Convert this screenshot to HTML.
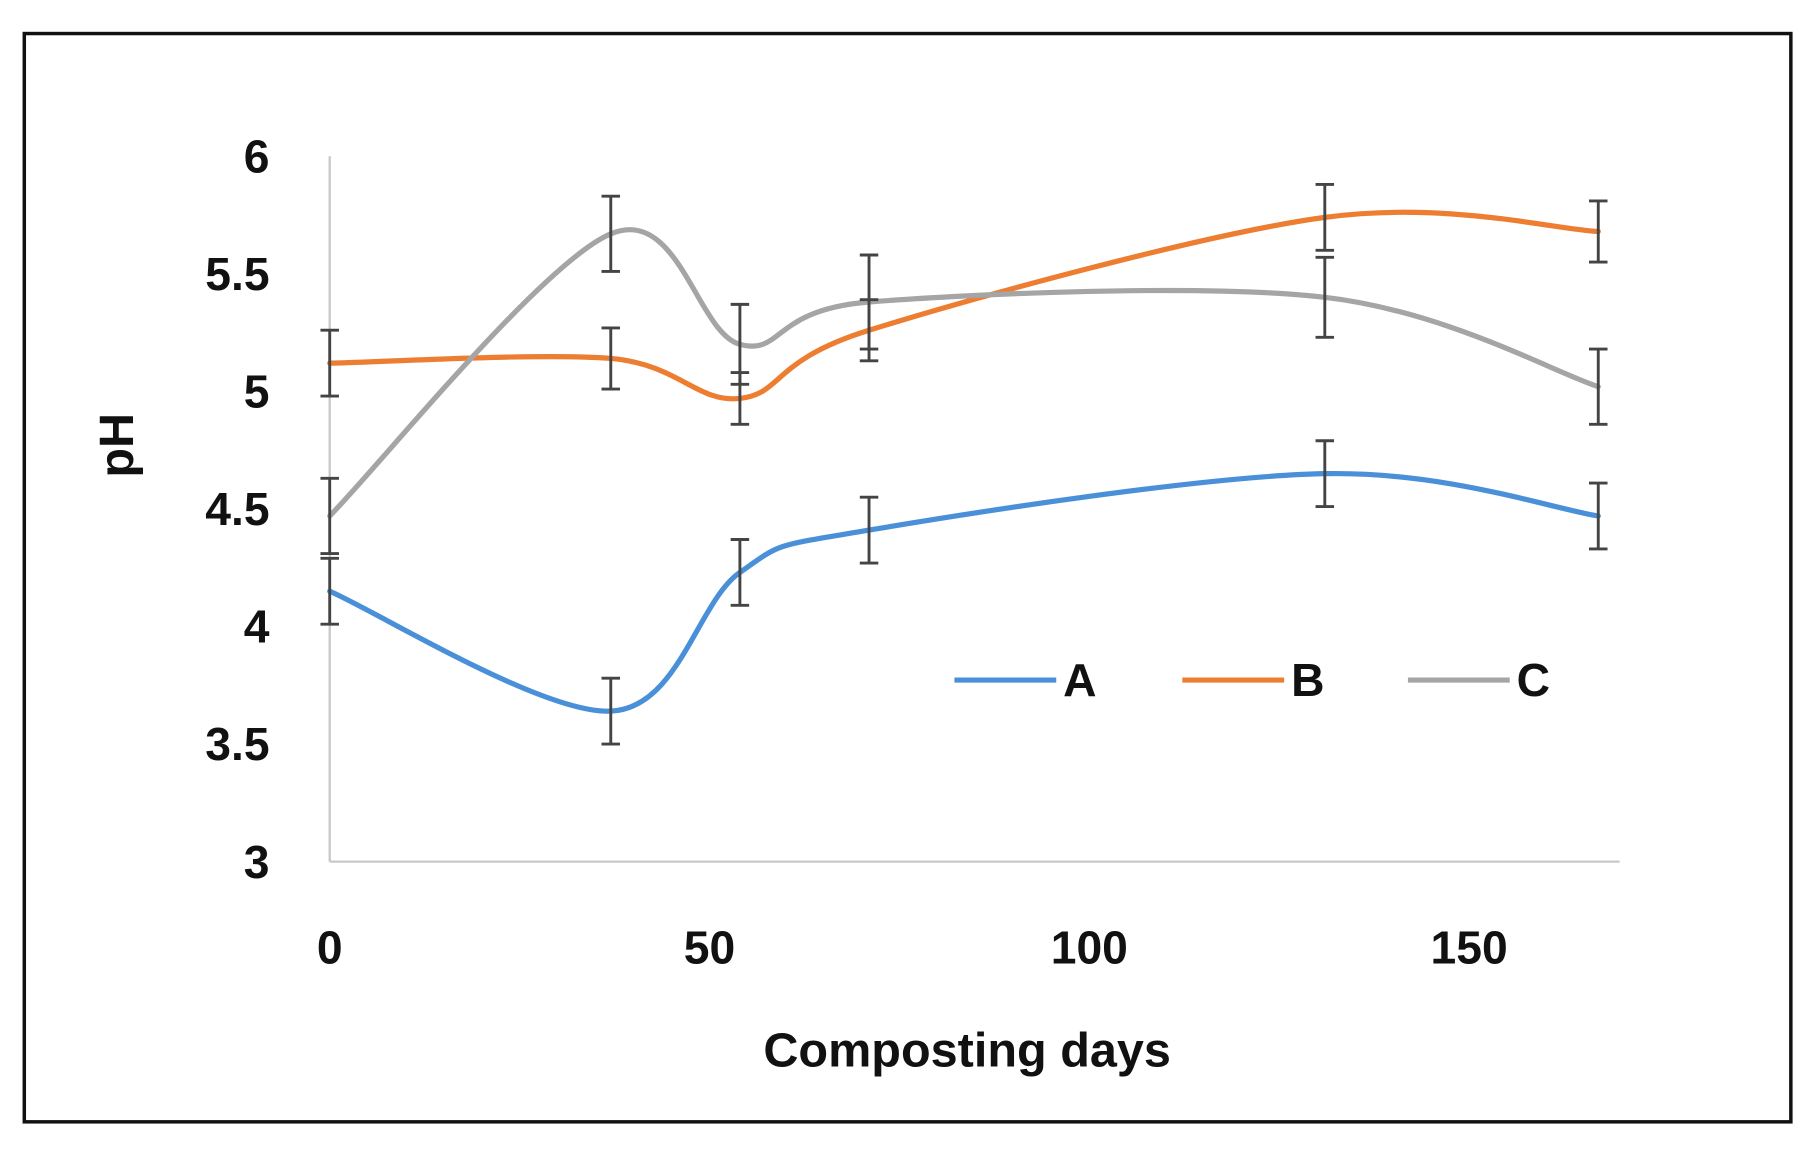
<!DOCTYPE html>
<html><head><meta charset="utf-8"><style>
html,body{margin:0;padding:0;background:#fff;}
svg{display:block;}
text{font-family:"Liberation Sans",sans-serif;font-weight:bold;fill:#111;}
</style></head><body>
<svg id="chart" width="1814" height="1160" viewBox="0 0 1568 1003" preserveAspectRatio="none" xmlns="http://www.w3.org/2000/svg">
<rect x="21" y="29" width="1527" height="941" fill="#fff" stroke="#111" stroke-width="3"/>
<g id="axes"></g>
<g id="series"></g>
<g id="legend"></g>
<text x="836" y="922" font-size="42" text-anchor="middle">Composting days</text>
<text x="0" y="0" font-size="42" text-anchor="middle" transform="translate(115,385) rotate(-90)">pH</text>
</svg>
<script>
const days = [0, 37, 54, 71, 131, 167];
const seriesNames = ["A", "B", "C"];
const valuesA = [4.15, 3.64, 4.23, 4.41, 4.65, 4.47];
const valuesB = [5.12, 5.14, 4.97, 5.26, 5.74, 5.68];
const valuesC = [4.47, 5.67, 5.2, 5.38, 5.4, 5.02];
const errA = [0.14, 0.14, 0.14, 0.14, 0.14, 0.14];
const errB = [0.14, 0.13, 0.11, 0.13, 0.14, 0.13];
const errC = [0.16, 0.16, 0.17, 0.2, 0.17, 0.16];
const yTicks = [3, 3.5, 4, 4.5, 5, 5.5, 6];
const xTicks = [0, 50, 100, 150];

const NS = "http://www.w3.org/2000/svg";
const X0 = 285, XPER = 6.566;
const Y0 = 745, YPER = 203.3;
const xs = d => X0 + d * XPER;
const ys = v => Y0 - (v - 3) * YPER;
function mk(tag, attrs, parent) {
  const e = document.createElementNS(NS, tag);
  for (const k in attrs) e.setAttribute(k, attrs[k]);
  parent.appendChild(e);
  return e;
}
const axes = document.getElementById("axes");
const yAxis = mk("line", {x1: X0, y1: ys(6), x2: X0, y2: ys(3), stroke: "#c8c8c8", "stroke-width": 2}, axes);


const xAxis = mk("line", {x1: X0, y1: ys(3), x2: 1400, y2: ys(3), stroke: "#c8c8c8", "stroke-width": 2}, axes);


yTicks.forEach(t => {
  const tx = mk("text", {x: 233, y: ys(t) + 14, "font-size": 40, "text-anchor": "end"}, axes);
  tx.textContent = String(t);
  
  
});
xTicks.forEach(t => {
  const tx = mk("text", {x: xs(t), y: 833, "font-size": 40, "text-anchor": "middle"}, axes);
  tx.textContent = String(t);
  
  
});

function smoothPath(pts) {
  let d = "M" + pts[0][0] + "," + pts[0][1];
  const k = 1 / 6;
  for (let i = 0; i < pts.length - 1; i++) {
    const p0 = pts[i - 1] || pts[i], p1 = pts[i], p2 = pts[i + 1], p3 = pts[i + 2] || p2;
    const c1 = [p1[0] + (p2[0] - p0[0]) * k, p1[1] + (p2[1] - p0[1]) * k];
    const c2 = [p2[0] - (p3[0] - p1[0]) * k, p2[1] - (p3[1] - p1[1]) * k];
    d += " C" + c1 + " " + c2 + " " + p2;
  }
  return d;
}
const seriesG = document.getElementById("series");
const allVals = [valuesA, valuesB, valuesC];
const allErr = [errA, errB, errC];
const colors = ["#4a90d9", "#ed7d31", "#a5a5a5"];
allVals.forEach((vals, si) => {
  const pts = days.map((d, i) => [xs(d), ys(vals[i])]);
  const p = mk("path", {d: smoothPath(pts), fill: "none", stroke: colors[si], "stroke-width": 4.5, "stroke-linecap": "round"}, seriesG);
  
  
});
allVals.forEach((vals, si) => {
  days.forEach((d, i) => {
    const x = xs(d), hi = ys(vals[i] + allErr[si][i]), lo = ys(vals[i] - allErr[si][i]);
    const g = mk("g", {stroke: "#444", "stroke-width": 2.5}, seriesG);
    
    
    mk("line", {x1: x, y1: hi, x2: x, y2: lo}, g);
    mk("line", {x1: x - 8, y1: hi, x2: x + 8, y2: hi}, g);
    mk("line", {x1: x - 8, y1: lo, x2: x + 8, y2: lo}, g);
  });
});
const legend = document.getElementById("legend");
const legX = [825, 1022, 1217];
seriesNames.forEach((n, i) => {
  const g = mk("g", {}, legend);
  
  
  mk("line", {x1: legX[i], y1: 588, x2: legX[i] + 88, y2: 588, stroke: colors[i], "stroke-width": 4.5}, g);
  const t = mk("text", {x: legX[i] + 94, y: 602, "font-size": 40}, g);
  t.textContent = n;
});
</script>
</body></html>
